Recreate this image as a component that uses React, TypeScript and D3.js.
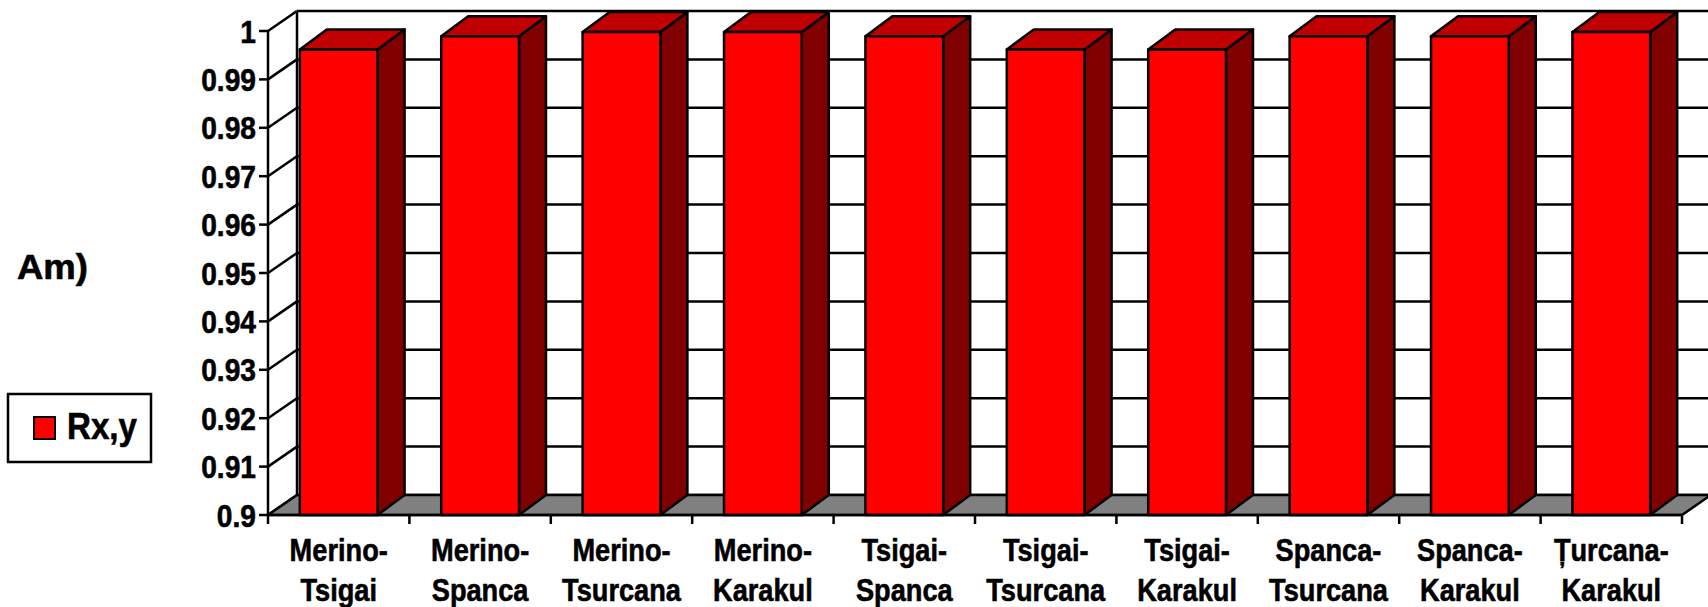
import React from "react";
import * as d3 from "d3";

const categories: string[][] = [
  ["Merino-", "Tsigai"],
  ["Merino-", "Spanca"],
  ["Merino-", "Tsurcana"],
  ["Merino-", "Karakul"],
  ["Tsigai-", "Spanca"],
  ["Tsigai-", "Tsurcana"],
  ["Tsigai-", "Karakul"],
  ["Spanca-", "Tsurcana"],
  ["Spanca-", "Karakul"],
  ["Țurcana-", "Karakul"],
];
const values: number[] = [0.9962, 0.9989, 0.9998, 0.9998, 0.9989, 0.9962, 0.9962, 0.9989, 0.9989, 0.9998];
const yTicks: number[] = [0.9, 0.91, 0.92, 0.93, 0.94, 0.95, 0.96, 0.97, 0.98, 0.99, 1];
const seriesName = "Rx,y";
const sideTitle = "Am)";

const W = 1708;
const H = 607;
const FONT = "'Liberation Sans', Arial, sans-serif";
const TXT = { fontFamily: FONT, fontWeight: "bold" as const, fill: "#000", stroke: "#000", strokeWidth: 0.6 };

export default function App() {
  const keys = categories.map((c) => c.join(""));
  const x = d3.scaleBand<string>().domain(keys).range([268, 1682]).paddingInner(0.45).paddingOuter(0.225);
  const y = d3.scaleLinear().domain([0.9, 1]).range([515, 31]);
  const step = x.step();
  const bw = x.bandwidth();
  const wdx = 29, wdy = 20; // wall depth
  const bdx = 27, bdy = 20; // bar depth
  const x0 = 268, x1 = 1682;
  const y0 = y(0.9);
  const sw = 2.5;

  return (
    <svg width={W} height={H} style={{ position: "absolute", left: 0, top: 0, background: "#fff" }}>
      {/* back wall */}
      <rect x={x0 + wdx} y={y(1) - wdy} width={W} height={y0 - y(1)} fill="#fff" />
      {yTicks.map((t) => (
        <g key={"g" + t}>
          <line x1={x0 + wdx} x2={W + 5} y1={y(t) - wdy} y2={y(t) - wdy} stroke="#000" strokeWidth={sw} />
          <line x1={x0} x2={x0 + wdx} y1={y(t)} y2={y(t) - wdy} stroke="#000" strokeWidth={sw} />
        </g>
      ))}
      <line x1={x0 + wdx} x2={x0 + wdx} y1={y(1) - wdy} y2={y0 - wdy} stroke="#000" strokeWidth={sw} />
      {/* floor */}
      <polygon
        points={`${x0},${y0} ${x1},${y0} ${x1 + wdx},${y0 - wdy} ${x0 + wdx},${y0 - wdy}`}
        fill="#808080"
        stroke="#000"
        strokeWidth={sw}
        strokeLinejoin="round"
      />
      {/* bars */}
      {keys.map((k, i) => {
        const bx = x(k)!;
        const top = y(values[i]);
        return (
          <g key={k} stroke="#000" strokeWidth={sw} strokeLinejoin="round">
            <polygon
              points={`${bx + bw},${top} ${bx + bw + bdx},${top - bdy} ${bx + bw + bdx},${y0 - bdy} ${bx + bw},${y0}`}
              fill="#800000"
            />
            <polygon
              points={`${bx},${top} ${bx + bdx},${top - bdy} ${bx + bw + bdx},${top - bdy} ${bx + bw},${top}`}
              fill="#C00000"
            />
            <rect x={bx} y={top} width={bw} height={y0 - top} fill="#FF0000" />
          </g>
        );
      })}
      {/* y axis */}
      <line x1={x0} x2={x0} y1={y(1)} y2={y0} stroke="#000" strokeWidth={sw} />
      {yTicks.map((t) => (
        <g key={"t" + t}>
          <line x1={x0 - 9} x2={x0} y1={y(t)} y2={y(t)} stroke="#000" strokeWidth={sw} />
          <text transform={`translate(256,${y(t) + 11.5}) scale(0.88,1)`} textAnchor="end" fontSize={32} {...TXT}>
            {d3.format("")(t)}
          </text>
        </g>
      ))}
      {/* x axis */}
      <line x1={x0} x2={x1} y1={y0} y2={y0} stroke="#000" strokeWidth={sw} />
      {d3.range(keys.length + 1).map((i) => (
        <line key={"xt" + i} x1={x0 + i * step} x2={x0 + i * step} y1={y0} y2={y0 + 9} stroke="#000" strokeWidth={sw} />
      ))}
      {keys.map((k, i) => {
        const cx = x(k)! + bw / 2;
        return (
          <g key={"l" + k}>
            {categories[i].map((line, j) => (
              <text key={j} transform={`translate(${cx},${561 + j * 40}) scale(0.85,1)`} textAnchor="middle" fontSize={32} {...TXT}>
                {line}
              </text>
            ))}
          </g>
        );
      })}
      {/* side title */}
      <text x={17} y={279} fontSize={35} textLength={71} lengthAdjust="spacingAndGlyphs" {...TXT}>
        {sideTitle}
      </text>
      {/* legend */}
      <rect x={8} y={394} width={143} height={68} fill="#fff" stroke="#000" strokeWidth={sw} />
      <rect x={34} y={417} width={21} height={22} fill="#FF0000" stroke="#000" strokeWidth={2} />
      <text x={67} y={439} fontSize={37} textLength={70} lengthAdjust="spacingAndGlyphs" {...TXT}>
        {seriesName}
      </text>
    </svg>
  );
}
